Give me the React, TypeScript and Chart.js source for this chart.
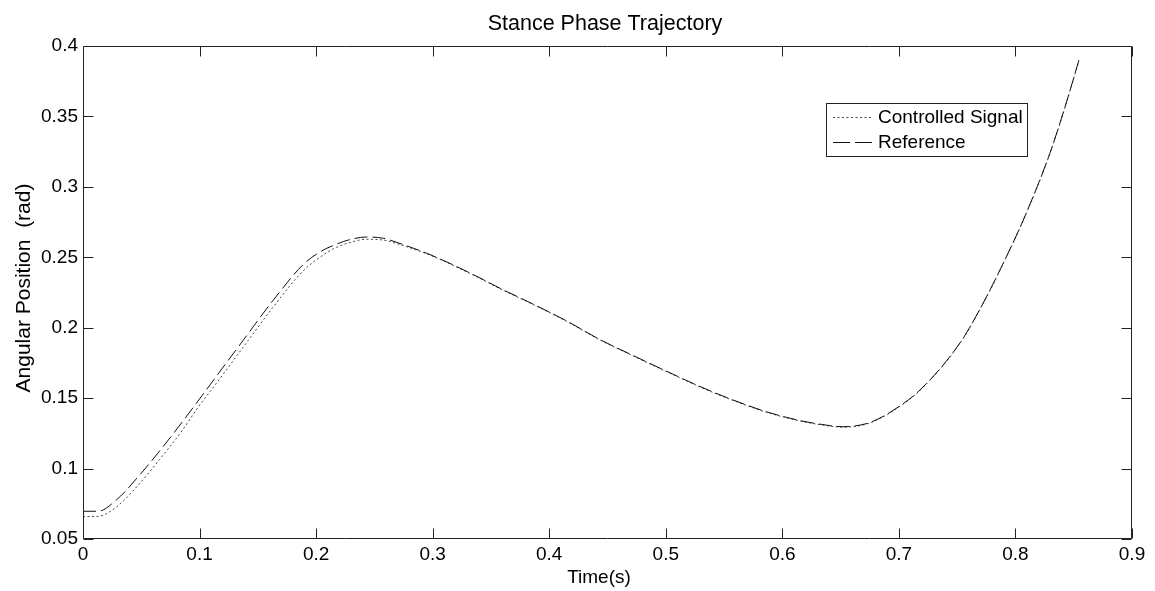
import { useEffect, useRef } from "react";
import { Chart, registerables } from "chart.js";

Chart.register(...registerables);

// ---- data ----
const timeS = [
  0, 0.0129, 0.0286, 0.0486, 0.0658, 0.0858, 0.0987, 0.1144, 0.1373, 0.163, 0.189, 0.2033,
  0.2147, 0.2291, 0.2434, 0.2576, 0.272, 0.2951, 0.3149, 0.338, 0.3578, 0.3861, 0.4152, 0.4435,
  0.4719, 0.501, 0.5293, 0.5577, 0.5868, 0.6151, 0.634, 0.652, 0.6726, 0.6838, 0.6949, 0.7181,
  0.7524, 0.7696, 0.7867, 0.8082, 0.8296, 0.8425, 0.8545,
];
const referenceRad = [
  0.0697, 0.0697, 0.0777, 0.0954, 0.1125, 0.1338, 0.148, 0.1655, 0.1909, 0.2193, 0.2449, 0.2538,
  0.2584, 0.2626, 0.2644, 0.2635, 0.2598, 0.2528, 0.2456, 0.2364, 0.228, 0.2168, 0.2047, 0.1916,
  0.1803, 0.169, 0.1583, 0.1487, 0.1402, 0.1341, 0.1313, 0.1297, 0.132, 0.1359, 0.1412, 0.1558,
  0.1892, 0.2133, 0.241, 0.2793, 0.324, 0.3567, 0.39,
];
const controlledRad = [
  0.0659, 0.0661, 0.0727, 0.0894, 0.1065, 0.1278, 0.1435, 0.1605, 0.186, 0.2145, 0.2405, 0.25,
  0.256, 0.2605, 0.2628, 0.2622, 0.259, 0.2524, 0.2453, 0.2361, 0.2277, 0.2165, 0.2044, 0.1913,
  0.18, 0.1687, 0.158, 0.1484, 0.1399, 0.1338, 0.131, 0.1294, 0.1317, 0.1356, 0.1409, 0.1555,
  0.1889, 0.213, 0.2407, 0.279, 0.3237, 0.3564, 0.3897,
];
const xTickValues = [0, 0.1, 0.2, 0.3, 0.4, 0.5, 0.6, 0.7, 0.8, 0.9];
const xTickLabels = ["0", "0.1", "0.2", "0.3", "0.4", "0.5", "0.6", "0.7", "0.8", "0.9"];
const yTickValues = [0.05, 0.1, 0.15, 0.2, 0.25, 0.3, 0.35, 0.4];
const yTickLabels = ["0.05", "0.1", "0.15", "0.2", "0.25", "0.3", "0.35", "0.4"];

const chartTitle = "Stance Phase Trajectory";
const xTitle = "Time(s)";
const yTitle = "Angular Position  (rad)";
const seriesNames = ["Controlled Signal", "Reference"];

const FONT = "'Liberation Sans', Arial, sans-serif";
const AXIS = "#222";
const REF_COLOR = "#111";
const CTRL_COLOR = "#444";
const REF_DASH = [13, 5];
const CTRL_DASH = [2, 2.5];
const LEGEND_REF_DASH = [17, 5];

const framePlugin = {
  id: "matlabFrame",
  afterDraw(chart: any) {
    const { ctx, chartArea, scales } = chart;
    const L = Math.round(chartArea.left) + 0.5;
    const R = Math.round(chartArea.right) - 0.5;
    const T = Math.round(chartArea.top) + 0.5;
    const B = Math.round(chartArea.bottom) - 0.5;
    ctx.save();
    ctx.strokeStyle = AXIS;
    ctx.lineWidth = 1;
    ctx.setLineDash([]);
    ctx.beginPath();
    ctx.moveTo(L, T); ctx.lineTo(R, T); ctx.lineTo(R, B); ctx.lineTo(L, B); ctx.closePath();
    const tl = 10;
    xTickValues.forEach((v) => {
      const px = Math.round(scales.x.getPixelForValue(v)) + 0.5;
      ctx.moveTo(px, B); ctx.lineTo(px, B - tl);
      ctx.moveTo(px, T); ctx.lineTo(px, T + tl);
    });
    yTickValues.forEach((v) => {
      const py = Math.round(scales.y.getPixelForValue(v)) + 0.5;
      ctx.moveTo(L, py); ctx.lineTo(L + tl, py);
      ctx.moveTo(R, py); ctx.lineTo(R - tl, py);
    });
    ctx.stroke();

    // legend
    const lx = 826.5, ly = 103.5, lw = 201, lh = 53;
    ctx.fillStyle = "#fff";
    ctx.fillRect(lx, ly, lw, lh);
    ctx.strokeStyle = AXIS;
    ctx.strokeRect(lx, ly, lw, lh);
    const rows = [
      { name: seriesNames[0], y: 117.5, color: CTRL_COLOR, dash: CTRL_DASH },
      { name: seriesNames[1], y: 142.5, color: REF_COLOR, dash: LEGEND_REF_DASH },
    ];
    ctx.font = `19px ${FONT}`;
    ctx.textBaseline = "middle";
    ctx.textAlign = "left";
    rows.forEach((r) => {
      ctx.beginPath();
      ctx.strokeStyle = r.color;
      ctx.setLineDash(r.dash);
      ctx.moveTo(833, r.y);
      ctx.lineTo(872, r.y);
      ctx.stroke();
      ctx.setLineDash([]);
      ctx.fillStyle = "#000";
      ctx.fillText(r.name, 878, r.y);
    });

    // titles
    ctx.fillStyle = "#000";
    ctx.textAlign = "center";
    ctx.textBaseline = "alphabetic";
    ctx.font = `21.5px ${FONT}`;
    ctx.fillText(chartTitle, 605, 30);
    ctx.font = `19px ${FONT}`;
    ctx.fillText(xTitle, 599, 583);
    ctx.save();
    ctx.translate(24, 288);
    ctx.rotate(-Math.PI / 2);
    ctx.font = `21px ${FONT}`;
    ctx.textBaseline = "middle";
    ctx.fillText(yTitle, 0, 0);
    ctx.restore();
    ctx.restore();
  },
};

export default function App() {
  const canvasRef = useRef<HTMLCanvasElement | null>(null);

  useEffect(() => {
    const canvas = canvasRef.current;
    if (!canvas) return;
    const refPts = timeS.map((t, i) => ({ x: t, y: referenceRad[i] }));
    const ctrlPts = timeS.map((t, i) => ({ x: t, y: controlledRad[i] }));
    const chart = new Chart(canvas, {
      type: "line",
      data: {
        datasets: [
          {
            label: seriesNames[1],
            data: refPts,
            borderColor: REF_COLOR,
            borderWidth: 1,
            borderDash: REF_DASH,
            pointRadius: 0,
            fill: false,
            cubicInterpolationMode: "monotone",
          },
          {
            label: seriesNames[0],
            data: ctrlPts,
            borderColor: CTRL_COLOR,
            borderWidth: 1,
            borderDash: CTRL_DASH,
            pointRadius: 0,
            fill: false,
            cubicInterpolationMode: "monotone",
          },
        ],
      },
      options: {
        responsive: false,
        animation: false,
        devicePixelRatio: 1,
        layout: { padding: { top: 46, right: 23, left: 0, bottom: 0 } },
        plugins: {
          legend: { display: false },
          title: { display: false },
          tooltip: { enabled: false },
        },
        scales: {
          x: {
            type: "linear",
            min: 0,
            max: 0.9,
            grid: { display: false, drawTicks: false },
            border: { display: false },
            afterBuildTicks: (s: any) => {
              s.ticks = xTickValues.map((v) => ({ value: v }));
            },
            afterFit: (s: any) => {
              s.height = 52;
            },
            ticks: {
              autoSkip: false,
              maxRotation: 0,
              padding: 4,
              color: "#000",
              font: { family: FONT, size: 19 },
              callback: (v: any) => {
                const i = xTickValues.findIndex((t) => Math.abs(t - Number(v)) < 1e-9);
                return i >= 0 ? xTickLabels[i] : "";
              },
            },
          },
          y: {
            type: "linear",
            min: 0.05,
            max: 0.4,
            grid: { display: false, drawTicks: false },
            border: { display: false },
            afterBuildTicks: (s: any) => {
              s.ticks = yTickValues.map((v) => ({ value: v }));
            },
            afterFit: (s: any) => {
              s.width = 83;
            },
            ticks: {
              autoSkip: false,
              padding: 5,
              color: "#000",
              font: { family: FONT, size: 19 },
              callback: (v: any) => {
                const i = yTickValues.findIndex((t) => Math.abs(t - Number(v)) < 1e-9);
                return i >= 0 ? yTickLabels[i] : "";
              },
            },
          },
        },
      },
      plugins: [framePlugin],
    });
    return () => chart.destroy();
  }, []);

  return (
    <div style={{ position: "fixed", left: 0, top: 0, width: 1155, height: 591, background: "#fff" }}>
      <canvas ref={canvasRef} width={1155} height={591} style={{ width: 1155, height: 591, display: "block" }} />
    </div>
  );
}
